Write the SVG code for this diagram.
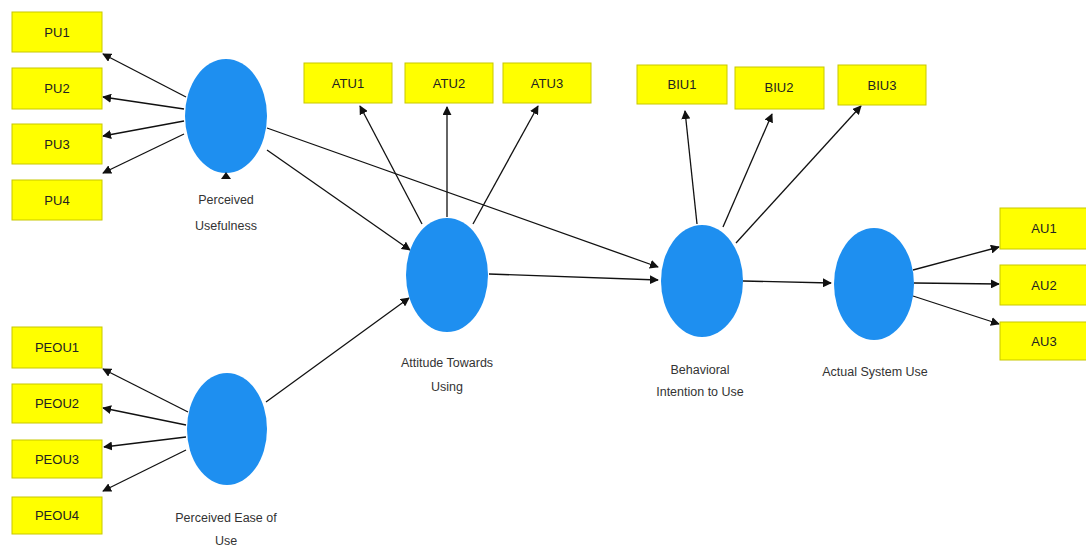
<svg xmlns="http://www.w3.org/2000/svg" width="1086" height="550" viewBox="0 0 1086 550">
<style>
.box{fill:#ffff00;stroke:#c8c800;stroke-width:1}
.lv{fill:#1e8ff0}
.bt{font-family:"Liberation Sans",Arial,sans-serif;font-size:13px;fill:#222;text-anchor:middle}
.lt{font-family:"Liberation Sans",Arial,sans-serif;font-size:12.5px;fill:#333;text-anchor:middle}
.cn line{stroke:#111;stroke-width:1.3;marker-end:url(#ah)}
</style>
<defs>
<marker id="ah" viewBox="0 0 10 10" refX="9" refY="5" markerWidth="9" markerHeight="9" markerUnits="userSpaceOnUse" orient="auto">
<path d="M0,0 L10,5 L0,10 z" fill="#111"/>
</marker>
</defs>
<rect width="1086" height="550" fill="#fff"/>
<g class="cn" id="connectors">
<line x1="186" y1="97" x2="103" y2="54"/>
<line x1="184" y1="109" x2="103" y2="97"/>
<line x1="184" y1="121" x2="103" y2="136"/>
<line x1="184" y1="134" x2="103" y2="173"/>
<line x1="188" y1="412" x2="103" y2="369"/>
<line x1="186" y1="425" x2="103" y2="408"/>
<line x1="186" y1="437" x2="104" y2="447"/>
<line x1="186" y1="450" x2="103" y2="491"/>
<line x1="267" y1="150" x2="410" y2="250"/>
<line x1="266" y1="402" x2="409" y2="298"/>
<line x1="267" y1="128" x2="658" y2="267"/>
<line x1="489" y1="274" x2="658" y2="280"/>
<line x1="422" y1="224" x2="360" y2="106"/>
<line x1="447" y1="217" x2="447" y2="107"/>
<line x1="473" y1="224" x2="538" y2="106"/>
<line x1="697" y1="224" x2="685" y2="111"/>
<line x1="723" y1="227" x2="772" y2="114"/>
<line x1="736" y1="243" x2="861" y2="106"/>
<line x1="743" y1="281" x2="831" y2="283"/>
<line x1="913" y1="270" x2="999" y2="247"/>
<line x1="914" y1="283" x2="999" y2="284"/>
<line x1="913" y1="296" x2="999" y2="324"/>
</g>
<g id="PU1"><rect class="box" x="12" y="12" width="90" height="40"/><text class="bt" x="57" y="37">PU1</text></g>
<g id="PU2"><rect class="box" x="12" y="68" width="90" height="41"/><text class="bt" x="57" y="93">PU2</text></g>
<g id="PU3"><rect class="box" x="12" y="124" width="90" height="40"/><text class="bt" x="57" y="149">PU3</text></g>
<g id="PU4"><rect class="box" x="12" y="180" width="90" height="40"/><text class="bt" x="57" y="205">PU4</text></g>
<g id="PEOU1"><rect class="box" x="12" y="327" width="90" height="41"/><text class="bt" x="57" y="352">PEOU1</text></g>
<g id="PEOU2"><rect class="box" x="12" y="384" width="90" height="39"/><text class="bt" x="57" y="408">PEOU2</text></g>
<g id="PEOU3"><rect class="box" x="12" y="440" width="90" height="38"/><text class="bt" x="57" y="464">PEOU3</text></g>
<g id="PEOU4"><rect class="box" x="12" y="497" width="90" height="37"/><text class="bt" x="57" y="520">PEOU4</text></g>
<g id="ATU1"><rect class="box" x="304" y="63" width="88" height="40"/><text class="bt" x="348" y="88">ATU1</text></g>
<g id="ATU2"><rect class="box" x="405" y="63" width="88" height="40"/><text class="bt" x="449" y="88">ATU2</text></g>
<g id="ATU3"><rect class="box" x="503" y="63" width="88" height="40"/><text class="bt" x="547" y="88">ATU3</text></g>
<g id="BIU1"><rect class="box" x="637" y="65" width="90" height="39"/><text class="bt" x="682" y="89">BIU1</text></g>
<g id="BIU2"><rect class="box" x="735" y="67" width="89" height="42"/><text class="bt" x="779" y="92">BIU2</text></g>
<g id="BIU3"><rect class="box" x="838" y="65" width="88" height="40"/><text class="bt" x="882" y="90">BIU3</text></g>
<g id="AU1"><rect class="box" x="1000" y="208" width="88" height="41"/><text class="bt" x="1044" y="233">AU1</text></g>
<g id="AU2"><rect class="box" x="1000" y="265" width="88" height="40"/><text class="bt" x="1044" y="290">AU2</text></g>
<g id="AU3"><rect class="box" x="1000" y="322" width="88" height="38"/><text class="bt" x="1044" y="346">AU3</text></g>
<g id="PerceivedUsefulness"><ellipse class="lv" cx="226" cy="116" rx="41" ry="57"/><path d="M226,172 L221,179 L231,179 z" fill="#111"/><text class="lt" x="226" y="204">Perceived</text><text class="lt" x="226" y="230">Usefulness</text></g>
<g id="PerceivedEaseOfUse"><ellipse class="lv" cx="227" cy="429" rx="40" ry="56"/><text class="lt" x="226" y="522">Perceived Ease of</text><text class="lt" x="226" y="545">Use</text></g>
<g id="AttitudeTowardsUsing"><ellipse class="lv" cx="447" cy="275" rx="41" ry="57"/><text class="lt" x="447" y="367">Attitude Towards</text><text class="lt" x="447" y="391">Using</text></g>
<g id="BehavioralIntention"><ellipse class="lv" cx="702" cy="281" rx="41" ry="56"/><text class="lt" x="700" y="374">Behavioral</text><text class="lt" x="700" y="396">Intention to Use</text></g>
<g id="ActualSystemUse"><ellipse class="lv" cx="874" cy="284" rx="40" ry="56"/><text class="lt" x="875" y="376">Actual System Use</text></g>
</svg>
